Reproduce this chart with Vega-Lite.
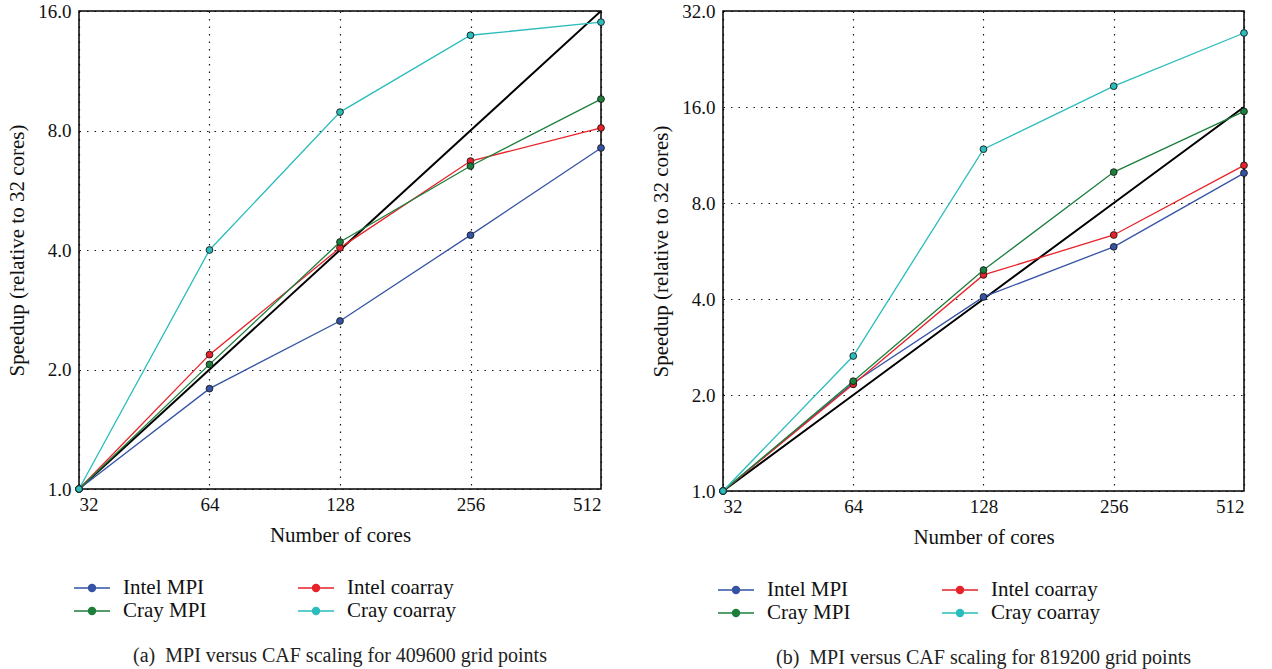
{
  "$schema": "https://vega.github.io/schema/vega-lite/v6.json",
  "background": "white",
  "padding": {"left": 6, "top": 1, "right": 8, "bottom": 0},
  "spacing": 43,
  "config": {
    "font": "Liberation Serif",
    "view": {"stroke": "black", "strokeWidth": 1.5},
    "style": {
      "guide-label": {"font": "Liberation Serif"},
      "guide-title": {"font": "Liberation Serif"}
    },
    "axis": {
      "domain": false,
      "ticks": false,
      "grid": true,
      "gridColor": "#000000",
      "gridDash": [1.5, 6],
      "gridWidth": 1.2,
      "gridOpacity": 0.9,
      "labelFont": "Liberation Serif",
      "labelFontSize": 19,
      "labelColor": "#111",
      "titleFont": "Liberation Serif",
      "titleFontSize": 21,
      "titleFontWeight": "normal",
      "titleColor": "#111"
    },
    "legend": {
      "orient": "bottom",
      "columns": 2,
      "labelFont": "Liberation Serif",
      "labelFontSize": 21,
      "labelColor": "#111",
      "title": null,
      "columnPadding": 88,
      "rowPadding": 0,
      "symbolType": "M-1.5,0H-0.29M0.29,0H1.5M0.29,0A0.29,0.29,0,1,1,-0.29,0A0.29,0.29,0,1,1,0.29,0Z",
      "symbolSize": 576,
      "symbolStrokeWidth": 1.5,
      "labelOffset": 18,
      "offset": 30
    },
    "title": {"font": "Liberation Serif", "fontSize": 20, "fontWeight": "normal", "color": "#222", "orient": "bottom", "anchor": "middle", "offset": 25}
  },
  "datasets": {
    "a": [
      {"cores": 32, "speedup": 1, "series": "Intel MPI"},
      {"cores": 64, "speedup": 1.79, "series": "Intel MPI"},
      {"cores": 128, "speedup": 2.65, "series": "Intel MPI"},
      {"cores": 256, "speedup": 4.36, "series": "Intel MPI"},
      {"cores": 512, "speedup": 7.23, "series": "Intel MPI"},
      {"cores": 32, "speedup": 1, "series": "Intel coarray"},
      {"cores": 64, "speedup": 2.18, "series": "Intel coarray"},
      {"cores": 128, "speedup": 4.05, "series": "Intel coarray"},
      {"cores": 256, "speedup": 6.7, "series": "Intel coarray"},
      {"cores": 512, "speedup": 8.12, "series": "Intel coarray"},
      {"cores": 32, "speedup": 1, "series": "Cray MPI"},
      {"cores": 64, "speedup": 2.06, "series": "Cray MPI"},
      {"cores": 128, "speedup": 4.19, "series": "Cray MPI"},
      {"cores": 256, "speedup": 6.51, "series": "Cray MPI"},
      {"cores": 512, "speedup": 9.6, "series": "Cray MPI"},
      {"cores": 32, "speedup": 1, "series": "Cray coarray"},
      {"cores": 64, "speedup": 4.0, "series": "Cray coarray"},
      {"cores": 128, "speedup": 8.9, "series": "Cray coarray"},
      {"cores": 256, "speedup": 13.9, "series": "Cray coarray"},
      {"cores": 512, "speedup": 15.0, "series": "Cray coarray"}
    ],
    "b": [
      {"cores": 32, "speedup": 1, "series": "Intel MPI"},
      {"cores": 64, "speedup": 2.18, "series": "Intel MPI"},
      {"cores": 128, "speedup": 4.06, "series": "Intel MPI"},
      {"cores": 256, "speedup": 5.83, "series": "Intel MPI"},
      {"cores": 512, "speedup": 9.93, "series": "Intel MPI"},
      {"cores": 32, "speedup": 1, "series": "Intel coarray"},
      {"cores": 64, "speedup": 2.16, "series": "Intel coarray"},
      {"cores": 128, "speedup": 4.76, "series": "Intel coarray"},
      {"cores": 256, "speedup": 6.35, "series": "Intel coarray"},
      {"cores": 512, "speedup": 10.5, "series": "Intel coarray"},
      {"cores": 32, "speedup": 1, "series": "Cray MPI"},
      {"cores": 64, "speedup": 2.21, "series": "Cray MPI"},
      {"cores": 128, "speedup": 4.93, "series": "Cray MPI"},
      {"cores": 256, "speedup": 10.0, "series": "Cray MPI"},
      {"cores": 512, "speedup": 15.5, "series": "Cray MPI"},
      {"cores": 32, "speedup": 1, "series": "Cray coarray"},
      {"cores": 64, "speedup": 2.65, "series": "Cray coarray"},
      {"cores": 128, "speedup": 11.8, "series": "Cray coarray"},
      {"cores": 256, "speedup": 18.6, "series": "Cray coarray"},
      {"cores": 512, "speedup": 27.3, "series": "Cray coarray"}
    ],
    "ideal": [
      {"cores": 32, "speedup": 1},
      {"cores": 64, "speedup": 2},
      {"cores": 128, "speedup": 4},
      {"cores": 256, "speedup": 8},
      {"cores": 512, "speedup": 16}
    ]
  },
  "resolve": {"scale": {"color": "independent", "x": "independent", "y": "independent"}, "legend": {"color": "independent"}},
  "hconcat": [
    {
      "width": 522,
      "height": 478,
      "title": {"text": "(a)\u00a0 MPI versus CAF scaling for 409600 grid points"},
      "encoding": {
        "x": {"field": "cores", "type": "quantitative", "scale": {"type": "log", "base": 2, "domain": [32, 512], "nice": false}, "axis": {"values": [32, 64, 128, 256, 512], "format": "d", "title": "Number of cores", "labelPadding": 6, "titlePadding": 10, "labelFont": "Liberation Serif", "titleFont": "Liberation Serif"}},
        "y": {"field": "speedup", "type": "quantitative", "scale": {"type": "log", "base": 2, "domain": [1, 16], "nice": false}, "axis": {"values": [1, 2, 4, 8, 16], "format": ".1f", "title": "Speedup (relative to 32 cores)", "labelPadding": 8, "titlePadding": 10, "labelFont": "Liberation Serif", "titleFont": "Liberation Serif"}}
      },
      "layer": [
        {
          "data": {"name": "ideal"},
          "mark": {"type": "line", "color": "black", "strokeWidth": 2, "clip": true}
        },
        {
          "data": {"name": "a"},
          "mark": {"type": "line", "strokeWidth": 1.3},
          "encoding": {
            "color": {"field": "series", "type": "nominal", "scale": {"domain": ["Intel MPI", "Intel coarray", "Cray MPI", "Cray coarray"], "range": ["#3553a5", "#e8222a", "#1c7f3c", "#2bbcbc"]}}
          }
        },
        {
          "data": {"name": "a"},
          "mark": {"type": "point", "filled": true, "size": 46, "stroke": "#1a1a1a", "strokeWidth": 0.9, "opacity": 1},
          "encoding": {
            "color": {"field": "series", "type": "nominal", "scale": {"domain": ["Intel MPI", "Intel coarray", "Cray MPI", "Cray coarray"], "range": ["#3553a5", "#e8222a", "#1c7f3c", "#2bbcbc"]}}
          }
        }
      ]
    },
    {
      "width": 521,
      "height": 480,
      "title": {"text": "(b)\u00a0 MPI versus CAF scaling for 819200 grid points"},
      "encoding": {
        "x": {"field": "cores", "type": "quantitative", "scale": {"type": "log", "base": 2, "domain": [32, 512], "nice": false}, "axis": {"values": [32, 64, 128, 256, 512], "format": "d", "title": "Number of cores", "labelPadding": 6, "titlePadding": 10, "labelFont": "Liberation Serif", "titleFont": "Liberation Serif"}},
        "y": {"field": "speedup", "type": "quantitative", "scale": {"type": "log", "base": 2, "domain": [1, 32], "nice": false}, "axis": {"values": [1, 2, 4, 8, 16, 32], "format": ".1f", "title": "Speedup (relative to 32 cores)", "labelPadding": 8, "titlePadding": 10, "labelFont": "Liberation Serif", "titleFont": "Liberation Serif"}}
      },
      "layer": [
        {
          "data": {"name": "ideal"},
          "mark": {"type": "line", "color": "black", "strokeWidth": 2, "clip": true}
        },
        {
          "data": {"name": "b"},
          "mark": {"type": "line", "strokeWidth": 1.3},
          "encoding": {
            "color": {"field": "series", "type": "nominal", "scale": {"domain": ["Intel MPI", "Intel coarray", "Cray MPI", "Cray coarray"], "range": ["#3553a5", "#e8222a", "#1c7f3c", "#2bbcbc"]}}
          }
        },
        {
          "data": {"name": "b"},
          "mark": {"type": "point", "filled": true, "size": 46, "stroke": "#1a1a1a", "strokeWidth": 0.9, "opacity": 1},
          "encoding": {
            "color": {"field": "series", "type": "nominal", "scale": {"domain": ["Intel MPI", "Intel coarray", "Cray MPI", "Cray coarray"], "range": ["#3553a5", "#e8222a", "#1c7f3c", "#2bbcbc"]}}
          }
        }
      ]
    }
  ]
}
